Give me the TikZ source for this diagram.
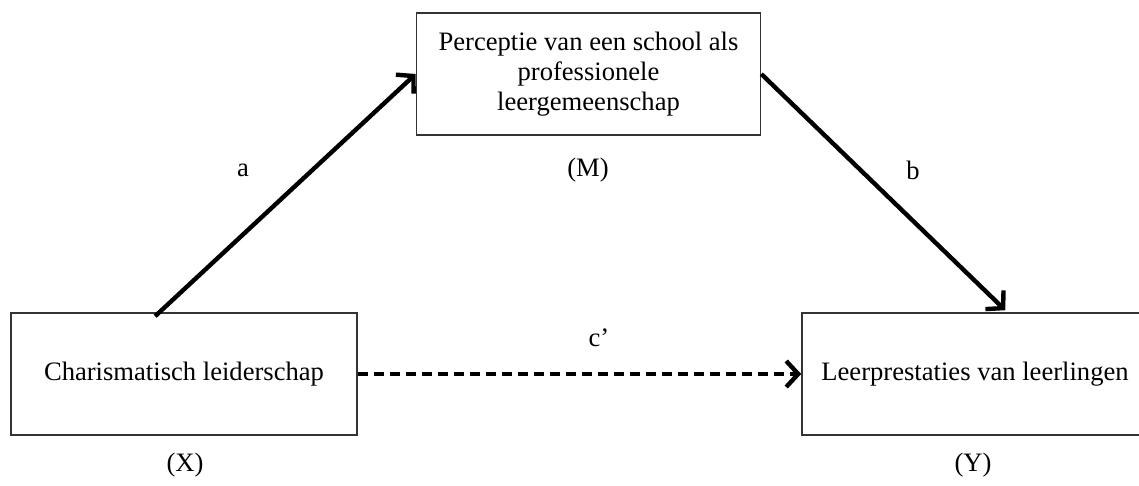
\documentclass[tikz,border=0pt]{standalone}
\usepackage{fontspec}
\setmainfont{Liberation Serif}
\usetikzlibrary{arrows.meta,calc}
\begin{document}
\begin{tikzpicture}[x=1pt,y=1pt,
  every node/.style={font=\fontsize{26.6}{30}\selectfont},
  varbox/.style={draw=black!80,line width=1.6pt,minimum width=344pt,minimum height=122pt,align=center,inner sep=0pt},
  path/.style={line width=4.4pt,-{Straight Barb[length=12pt,width=26pt,line width=4.4pt]}},
  label/.style={inner sep=0pt}]
\useasboundingbox (0,0) rectangle (1139,486);

\node[varbox] (M) at (588.5,412) {Perceptie van een school als\\professionele\\leergemeenschap};
\node[varbox,minimum width=346pt] (X) at (184,112) {Charismatisch leiderschap};
\node[varbox,minimum width=346pt] (Y) at (975,112) {Leerprestaties van leerlingen};

\coordinate (aStart) at ($(X.north west)!0.417!(X.north east)+(0,-4)$);
\coordinate (bEnd) at ($(Y.north west)!0.587!(Y.north east)+(0,2)$);

\draw[path] (aStart) -- (M.west);
\draw[path] (M.east) -- (bEnd);
\draw[path,dash pattern=on 10pt off 6pt] (X.east) -- (Y.west);

\node[label] (la) at (243,316) {a};
\node[label] (lm) at (588,316) {(M)};
\node[label] (lb) at (913,316) {b};
\node[label] (lc) at (599,148) {c’};
\node[label] (lx) at (185,21) {(X)};
\node[label] (ly) at (973,21) {(Y)};
\end{tikzpicture}
\end{document}
